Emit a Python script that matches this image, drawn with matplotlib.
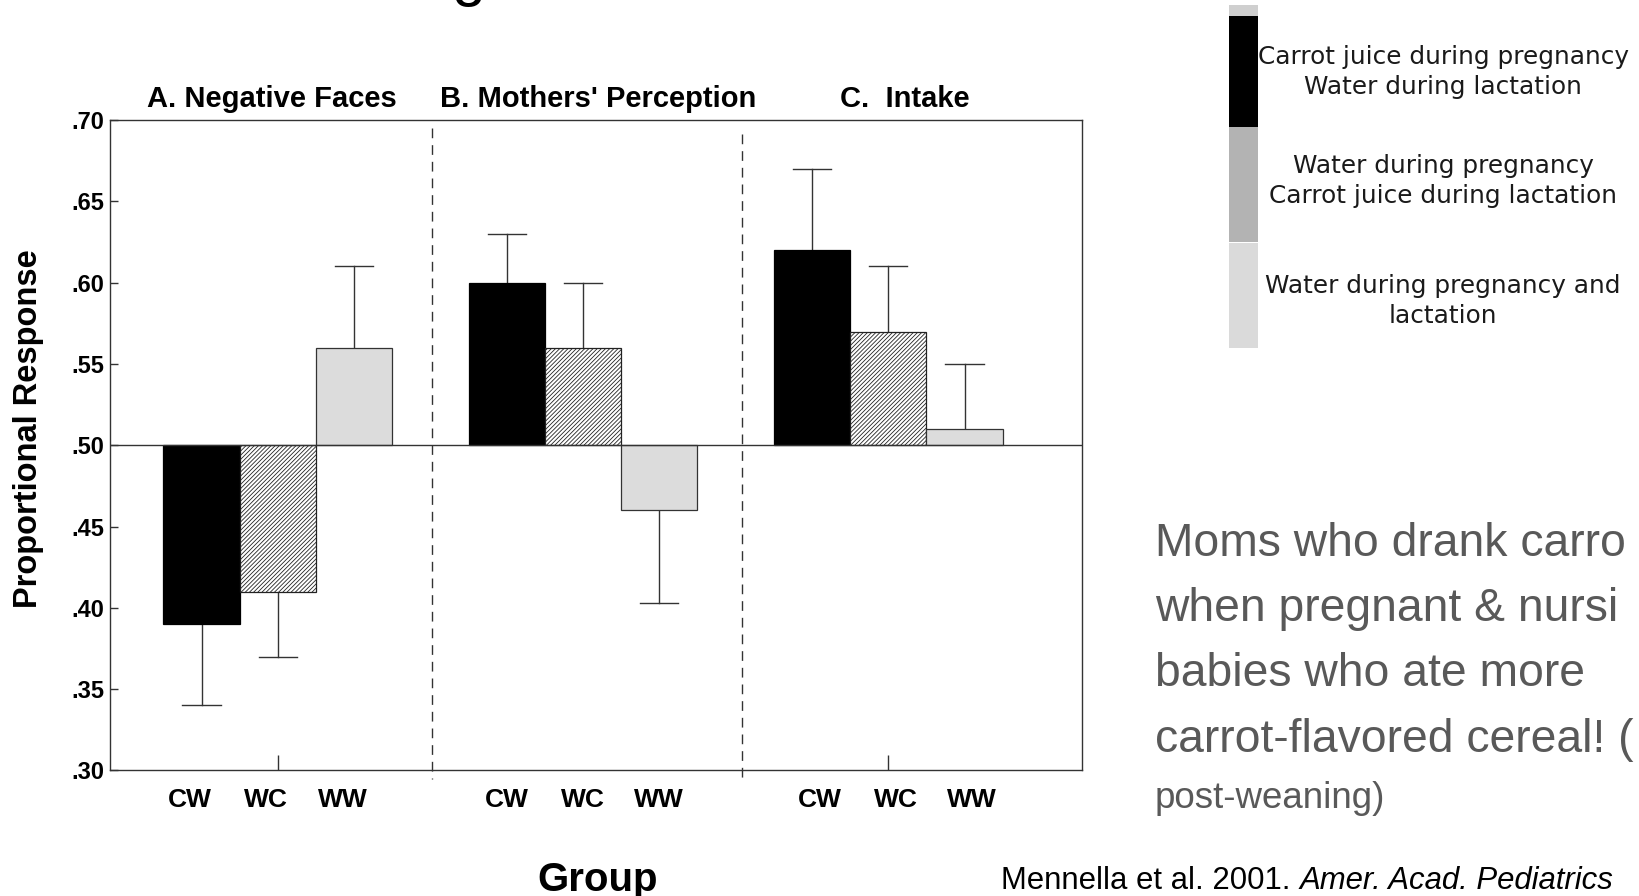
import matplotlib
matplotlib.use("Agg")
import matplotlib.pyplot as plt
from matplotlib.patches import Rectangle
import numpy as np

# ---------------- data ----------------
panels = ["A. Negative Faces", "B. Mothers' Perception", "C.  Intake"]
groups = ["CW", "WC", "WW"]
means = {
    "A": [0.39, 0.41, 0.56],
    "B": [0.60, 0.56, 0.46],
    "C": [0.62, 0.57, 0.51],
}
err_ends = {
    "A": [0.34, 0.37, 0.61],
    "B": [0.63, 0.60, 0.403],
    "C": [0.67, 0.61, 0.55],
}
y_ticks = [0.30, 0.35, 0.40, 0.45, 0.50, 0.55, 0.60, 0.65, 0.70]
y_ticklabels = [".30", ".35", ".40", ".45", ".50", ".55", ".60", ".65", ".70"]
baseline = 0.50
legend_labels = [
    "Carrot juice during pregnancy\nWater during lactation",
    "Water during pregnancy\nCarrot juice during lactation",
    "Water during pregnancy and\nlactation",
]
# slide text as far as it is visible in the picture
body_lines = [
    "Moms who drank carro",
    "when pregnant & nursi",
    "babies who ate more",
    "carrot-flavored cereal! (",
]
body_last = "post-weaning)"
citation_plain = "Mennella et al. 2001. "
citation_italic = "Amer. Acad. Pediatrics"

# ---------------- figure ----------------
W, H = 1639, 896
fig = plt.figure(figsize=(W / 100, H / 100), dpi=100)
fig.patch.set_facecolor("white")

def X(px):
    return px / W

def Y(py):
    return 1 - py / H

SANS = ["Liberation Sans", "DejaVu Sans"]
plt.rcParams["font.family"] = SANS
plt.rcParams["hatch.linewidth"] = 0.6

ax_l, ax_r, ax_t, ax_b = 110, 1082, 120.2, 770.4
ax = fig.add_axes([X(ax_l), Y(ax_b), (ax_r - ax_l) / W, (ax_b - ax_t) / H])
ax.set_xlim(0, 12.74)
ax.set_ylim(0.30, 0.70)

styles = [
    dict(facecolor="black", edgecolor="black", hatch=None),
    dict(facecolor="white", edgecolor="#222222", hatch="////////"),
    dict(facecolor="#dcdcdc", edgecolor="#333333", hatch=None),
]
label_shift = [-0.15, 0.0, 0.1]
label_pos = []
label_txt = []
wc_pos = []
for g, key in enumerate(["A", "B", "C"]):
    for i in range(3):
        xc = 1.2 + 4 * g + i
        v = means[key][i]
        st = styles[i]
        ax.bar(xc, v - baseline, bottom=baseline, width=1.0,
               facecolor=st["facecolor"], edgecolor=st["edgecolor"],
               hatch=st["hatch"], linewidth=0.9, zorder=2)
        e = err_ends[key][i]
        ax.plot([xc, xc], [v, e], color="#333333", lw=1.0, zorder=1)
        ax.plot([xc - 0.25, xc + 0.25], [e, e], color="#333333", lw=1.0, zorder=1)
        label_pos.append(xc + label_shift[g])
        label_txt.append(groups[i])
        if i == 1:
            wc_pos.append(xc)

ax.axhline(baseline, color="#333333", lw=1.0, zorder=3)

# dashed separators
ax.plot([4.22, 4.22], [0.6955, 0.295], color="#333333", lw=1.0,
        linestyle=(0, (7, 5)), clip_on=False, zorder=1)
ax.plot([8.29, 8.29], [0.6916, 0.295], color="#333333", lw=1.0,
        linestyle=(0, (7, 5)), clip_on=False, zorder=1)

for s in ax.spines.values():
    s.set_linewidth(1.0)
    s.set_color("#333333")

ax.set_yticks(y_ticks)
ax.set_yticklabels(y_ticklabels, fontsize=17, fontweight="bold")
ax.tick_params(axis="y", direction="in", length=6, width=1, pad=4, color="#333333")

ax.set_xticks(label_pos)
ax.set_xticklabels(label_txt, fontsize=19, fontweight="bold")
ax.tick_params(axis="x", which="major", length=0, pad=13)
ax.set_xticks(wc_pos, minor=True)
ax.tick_params(axis="x", which="minor", direction="in", length=11, width=1, color="#333333")

# panel titles
title_x = [271.8, 598, 905]
for t, px in zip(panels, title_x):
    fig.text(X(px), Y(106.6), t, ha="center", va="baseline",
             fontsize=21, fontweight="bold")

fig.text(X(29), Y(428.5), "Proportional Response", rotation=90,
         ha="center", va="center", fontsize=23.5, fontweight="bold")
fig.text(X(598), Y(890.6), "Group", ha="center", va="baseline",
         fontsize=29, fontweight="bold")

# cut-off slide title remnant
fig.text(X(468), Y(-6), "g", ha="center", va="baseline", fontsize=44,
         color="black")

# legend strip
fig.patches.append(Rectangle((X(1229), Y(16)), (1258 - 1229) / W, 11 / H,
                             transform=fig.transFigure, facecolor="#cfcfcf",
                             edgecolor="none"))
seg = [(16, 127.5, "black"), (127.5, 242.5, "#b3b3b3"), (242.5, 348, "#dadada")]
for top, bot, c in seg:
    fig.patches.append(Rectangle((X(1229), Y(bot)), (1258 - 1229) / W, (bot - top) / H,
                                 transform=fig.transFigure, facecolor=c,
                                 edgecolor="none"))
leg_y = [72, 181, 301]
for lab, py in zip(legend_labels, leg_y):
    fig.text(X(1443), Y(py), lab, ha="center", va="center",
             fontsize=17.8, family="DejaVu Sans", color="#1a1a1a", linespacing=1.3)

# body text
body_base = [556, 621, 686, 751.5]
body_texts = []
for line, py in zip(body_lines, body_base):
    body_texts.append(fig.text(X(1155), Y(py), line, ha="left", va="baseline",
                               fontsize=34.5, color="#595959"))
fig.text(X(1155), Y(808), body_last, ha="left", va="baseline",
         fontsize=26.5, color="#595959")

# citation
t1 = fig.text(X(1001), Y(889), citation_plain, ha="left", va="baseline",
              fontsize=22.4, color="black")
fig.canvas.draw()
# keep the body lines inside the right edge
r = fig.canvas.get_renderer()
fs = 34.5
while max(t.get_window_extent(r).x1 for t in body_texts) > W - 3 and fs > 28:
    fs -= 0.2
    for t in body_texts:
        t.set_fontsize(fs)
bb = t1.get_window_extent(r)
fig.text(bb.x1 / W, Y(889), citation_italic, ha="left", va="baseline",
         fontsize=22.4, style="italic", color="black")

fig.savefig("out.png", dpi=100)
